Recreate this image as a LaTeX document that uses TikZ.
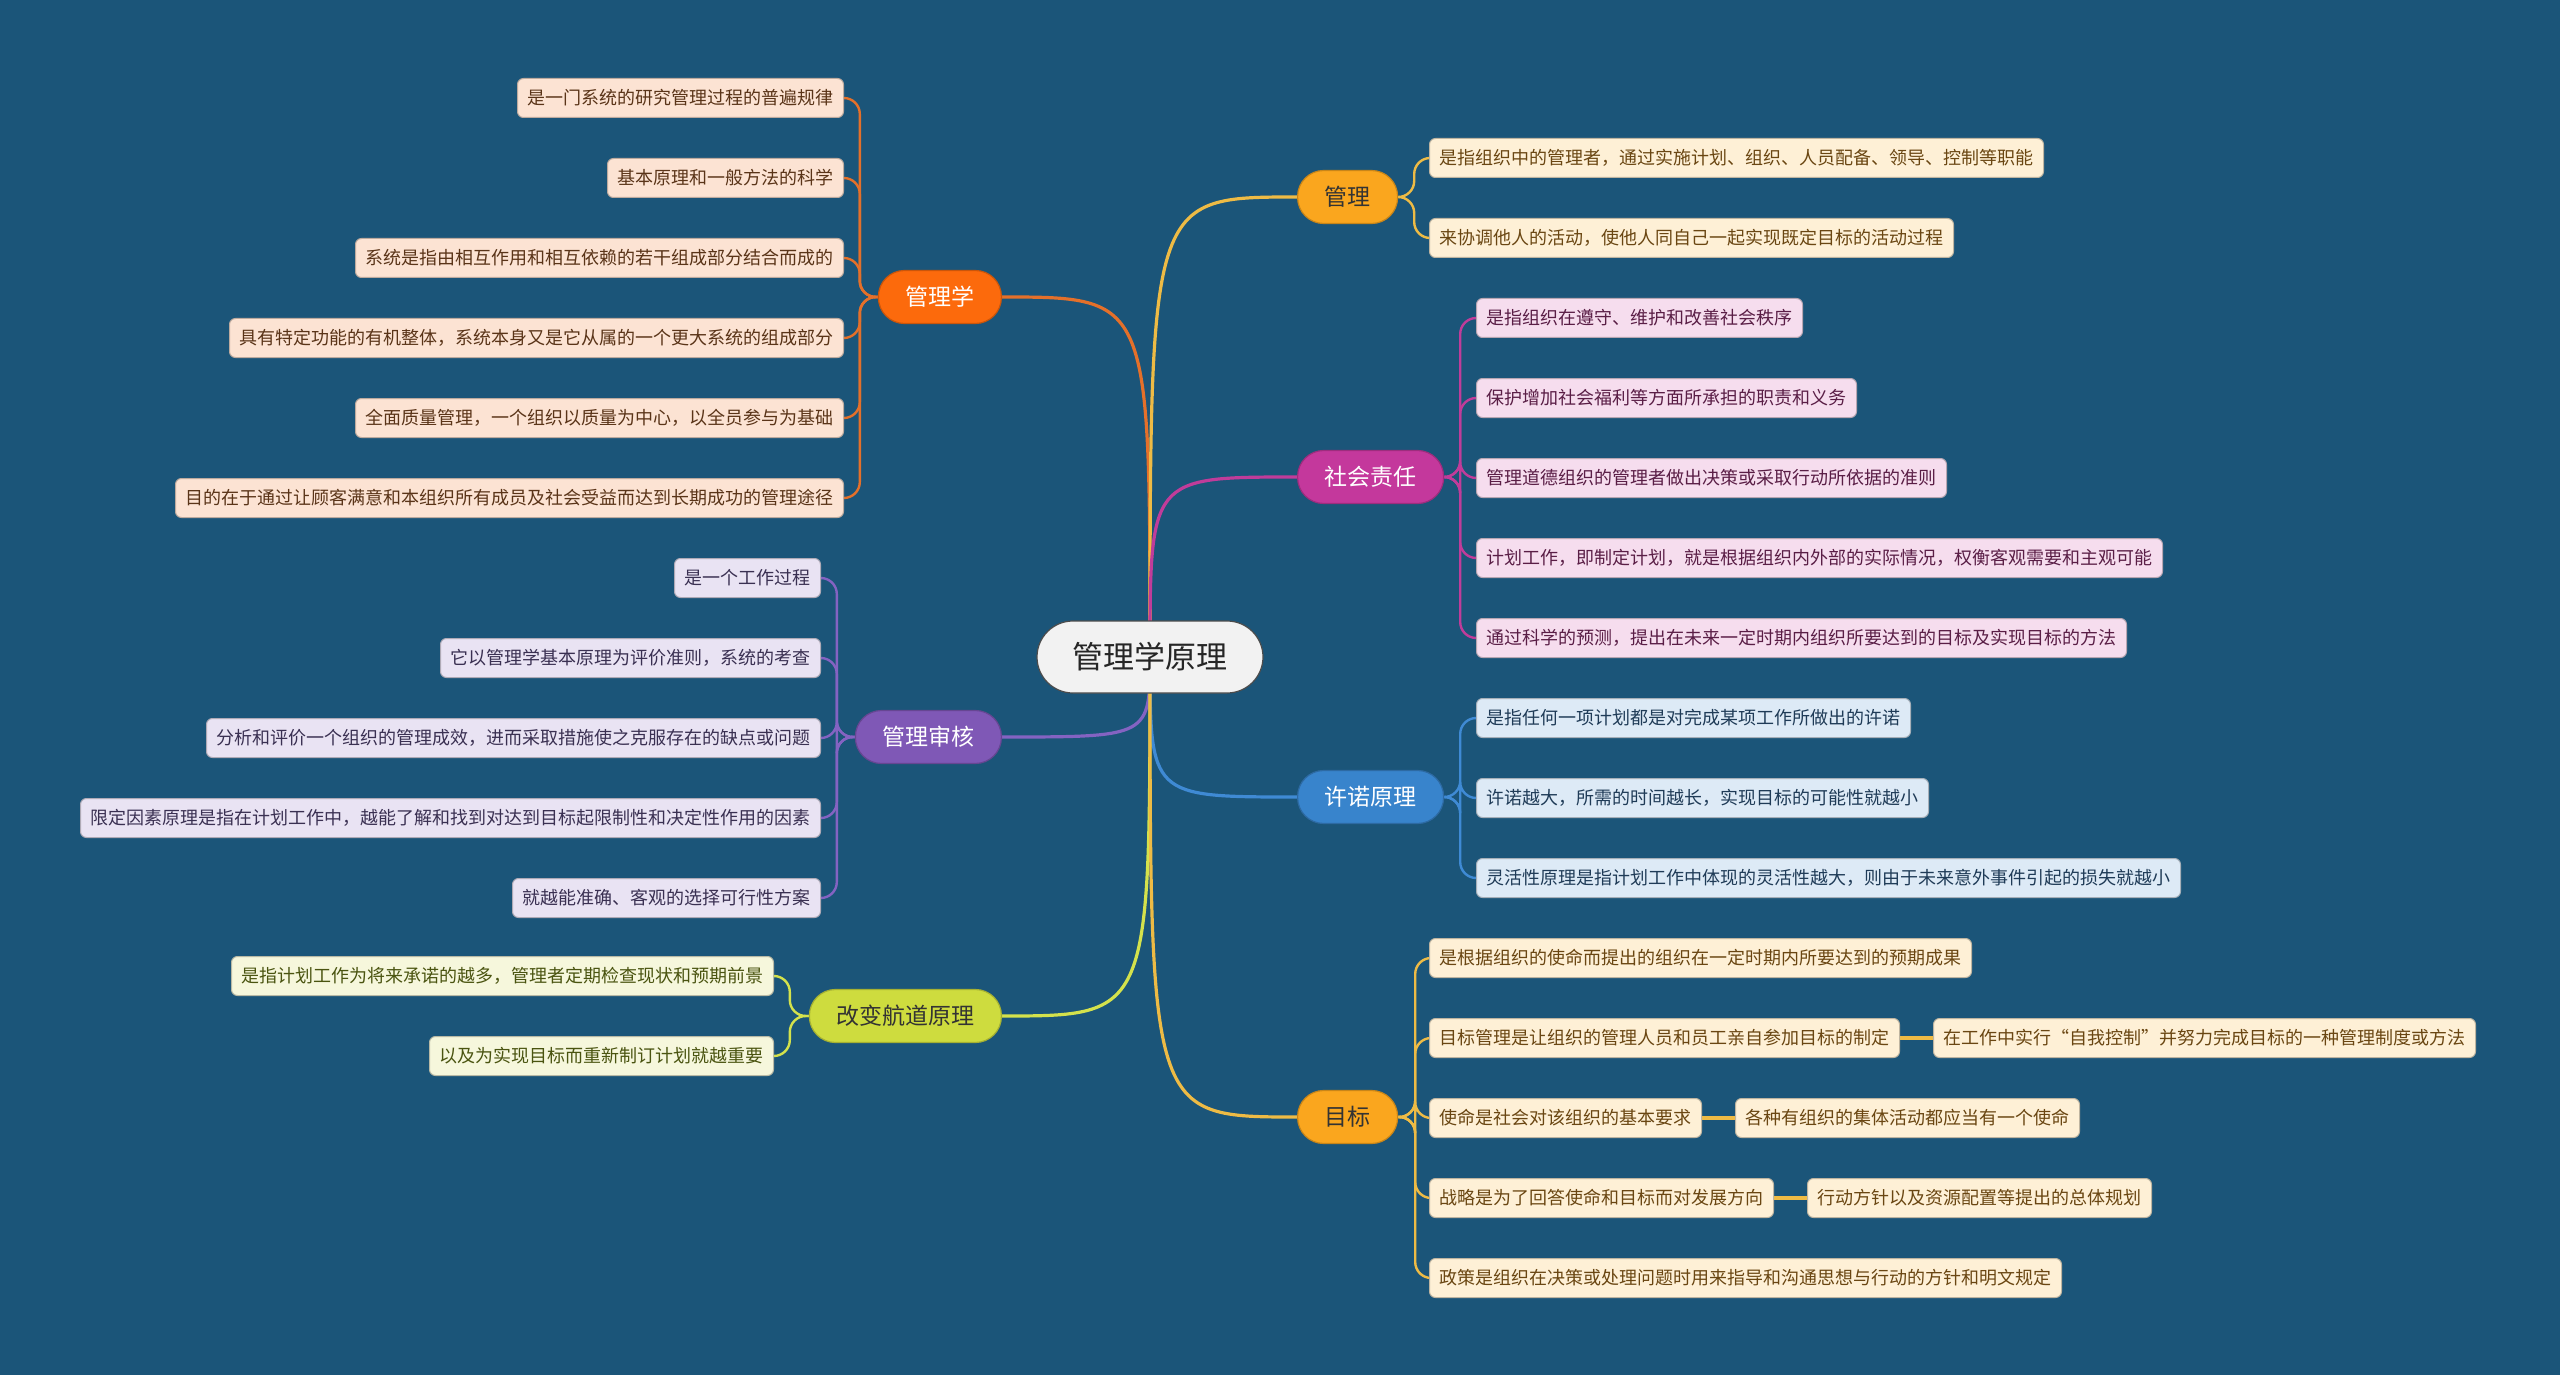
\documentclass[tikz,border=0pt]{standalone}
\usepackage{fontspec}
\setmainfont{Noto Sans CJK SC}
\usepackage{xcolor}
\usepackage{tikz}
\usetikzlibrary{positioning, calc, backgrounds}

\definecolor{bgblue}{HTML}{1B5579}
\definecolor{rootfill}{HTML}{F2F2F2}
\definecolor{xueMain}{HTML}{FC6A0C}
\definecolor{xueLine}{HTML}{E4702A}
\definecolor{xueLeaf}{HTML}{FCE3D3}
\definecolor{xueText}{HTML}{5A3418}
\definecolor{shenMain}{HTML}{7F58B6}
\definecolor{shenLine}{HTML}{8463C2}
\definecolor{shenLeaf}{HTML}{E9E3F3}
\definecolor{shenText}{HTML}{3A3052}
\definecolor{hangMain}{HTML}{CEDC3E}
\definecolor{hangLine}{HTML}{D4E24C}
\definecolor{hangLeaf}{HTML}{F6F7DC}
\definecolor{hangText}{HTML}{4A5410}
\definecolor{guanMain}{HTML}{FAA61E}
\definecolor{guanLine}{HTML}{EEBB45}
\definecolor{guanLeaf}{HTML}{FEF0D6}
\definecolor{guanText}{HTML}{6A4612}
\definecolor{sheMain}{HTML}{C4389C}
\definecolor{sheLine}{HTML}{C03C9A}
\definecolor{sheLeaf}{HTML}{F6DDEE}
\definecolor{sheText}{HTML}{5A1E46}
\definecolor{nuoMain}{HTML}{3884CC}
\definecolor{nuoLine}{HTML}{3F8AD4}
\definecolor{nuoLeaf}{HTML}{DDEAF6}
\definecolor{nuoText}{HTML}{1F3B57}

\tikzset{
  topic/.style={rectangle, draw=black!70, line width=0.6pt, fill=rootfill, text=black!85, rounded corners=18pt, minimum width=113pt, minimum height=36pt, font=\fontsize{15.5}{18}\selectfont},
  branch/.style={rectangle, rounded corners=13pt, minimum height=26.5pt, inner xsep=13.5pt, line width=0.6pt, font=\fontsize{11.5}{14}\selectfont},
  leaf/.style={rectangle, rounded corners=3pt, minimum height=19.5pt, inner xsep=5pt, line width=0.5pt, font=\fontsize{9}{11}\selectfont},
  link/.style={line width=1.6pt},
  twig/.style={line width=1.2pt, rounded corners=8pt},
  xueleaf/.style={leaf, fill=xueLeaf, draw=xueLeaf!75!black, text=xueText},
  shenleaf/.style={leaf, fill=shenLeaf, draw=shenLeaf!75!black, text=shenText},
  hangleaf/.style={leaf, fill=hangLeaf, draw=hangLeaf!75!black, text=hangText},
  guanleaf/.style={leaf, fill=guanLeaf, draw=guanLeaf!75!black, text=guanText},
  sheleaf/.style={leaf, fill=sheLeaf, draw=sheLeaf!75!black, text=sheText},
  nuoleaf/.style={leaf, fill=nuoLeaf, draw=nuoLeaf!75!black, text=nuoText},
}

\begin{document}
\begin{tikzpicture}[x=0.5pt, y=-0.5pt]
  % Root
  \node[topic] (root) at (1150,657) {管理学原理};

  % Left branches
  \node[branch, fill=xueMain, draw=xueMain!80!black, text=white, anchor=east] (xue) at (1002,297) {管理学};
  \node[branch, fill=shenMain, draw=shenMain!80!black, text=white, anchor=east] (shen) at (1002,737) {管理审核};
  \node[branch, fill=hangMain, draw=hangMain!80!black, text=black!80, anchor=east] (hang) at (1002,1016) {改变航道原理};

  % Right branches
  \node[branch, fill=guanMain, draw=guanMain!80!black, text=black!80, anchor=west] (guan) at (1297,197) {管理};
  \node[branch, fill=sheMain, draw=sheMain!80!black, text=white, anchor=west] (she) at (1297,477) {社会责任};
  \node[branch, fill=nuoMain, draw=nuoMain!80!black, text=white, anchor=west] (nuo) at (1297,797) {许诺原理};
  \node[branch, fill=guanMain, draw=guanMain!80!black, text=black!80, anchor=west] (mu) at (1297,1117) {目标};

  % Leaves
  \foreach \t [count=\i] in {是一门系统的研究管理过程的普遍规律, 基本原理和一般方法的科学,
      系统是指由相互作用和相互依赖的若干组成部分结合而成的,
      具有特定功能的有机整体，系统本身又是它从属的一个更大系统的组成部分,
      全面质量管理，一个组织以质量为中心，以全员参与为基础,
      目的在于通过让顾客满意和本组织所有成员及社会受益而达到长期成功的管理途径}
    \node[xueleaf, anchor=east] (xue\i) at (844,18+80*\i) {\t};

  \foreach \t [count=\i] in {是一个工作过程, 它以管理学基本原理为评价准则，系统的考查,
      分析和评价一个组织的管理成效，进而采取措施使之克服存在的缺点或问题,
      限定因素原理是指在计划工作中，越能了解和找到对达到目标起限制性和决定性作用的因素,
      就越能准确、客观的选择可行性方案}
    \node[shenleaf, anchor=east] (shen\i) at (821,498+80*\i) {\t};

  \foreach \t [count=\i] in {是指计划工作为将来承诺的越多，管理者定期检查现状和预期前景,
      以及为实现目标而重新制订计划就越重要}
    \node[hangleaf, anchor=east] (hang\i) at (774,896+80*\i) {\t};

  \foreach \t [count=\i] in {是指组织中的管理者，通过实施计划、组织、人员配备、领导、控制等职能,
      来协调他人的活动，使他人同自己一起实现既定目标的活动过程}
    \node[guanleaf, anchor=west] (guan\i) at (1429,78+80*\i) {\t};

  \foreach \t [count=\i] in {是指组织在遵守、维护和改善社会秩序, 保护增加社会福利等方面所承担的职责和义务,
      管理道德组织的管理者做出决策或采取行动所依据的准则,
      计划工作，即制定计划，就是根据组织内外部的实际情况，权衡客观需要和主观可能,
      通过科学的预测，提出在未来一定时期内组织所要达到的目标及实现目标的方法}
    \node[sheleaf, anchor=west] (she\i) at (1476,238+80*\i) {\t};

  \foreach \t [count=\i] in {是指任何一项计划都是对完成某项工作所做出的许诺,
      许诺越大，所需的时间越长，实现目标的可能性就越小,
      灵活性原理是指计划工作中体现的灵活性越大，则由于未来意外事件引起的损失就越小}
    \node[nuoleaf, anchor=west] (nuo\i) at (1476,638+80*\i) {\t};

  \foreach \t [count=\i] in {是根据组织的使命而提出的组织在一定时期内所要达到的预期成果,
      目标管理是让组织的管理人员和员工亲自参加目标的制定,
      使命是社会对该组织的基本要求, 战略是为了回答使命和目标而对发展方向,
      政策是组织在决策或处理问题时用来指导和沟通思想与行动的方针和明文规定}
    \node[guanleaf, anchor=west] (mu\i) at (1429,878+80*\i) {\t};

  % Second level under 目标
  \node[guanleaf, right=16.5pt of mu2] (mu2a) {在工作中实行“自我控制”并努力完成目标的一种管理制度或方法};
  \node[guanleaf, right=16.5pt of mu3] (mu3a) {各种有组织的集体活动都应当有一个使命};
  \node[guanleaf, right=16.5pt of mu4] (mu4a) {行动方针以及资源配置等提出的总体规划};

  % Connectors
  \begin{scope}[on background layer]
    \fill[bgblue] (0,0) rectangle (2560,1375);
    \foreach \b/\c in {xue/xueLine, shen/shenLine, hang/hangLine}
      \draw[link, \c] (root.center) .. controls (root.center |- \b.east) .. (\b.east);
    \foreach \b/\c in {guan/guanLine, she/sheLine, nuo/nuoLine, mu/guanLine}
      \draw[link, \c] (root.center) .. controls (root.center |- \b.west) .. (\b.west);

    \foreach \i in {1,...,6}
      \draw[twig, xueLine] (xue.west) -- ++(-18,0) |- (xue\i.east);
    \foreach \i in {1,...,5}
      \draw[twig, shenLine] (shen.west) -- ++(-18,0) |- (shen\i.east);
    \foreach \i in {1,2}
      \draw[twig, hangLine] (hang.west) -- ++(-19,0) |- (hang\i.east);
    \foreach \i in {1,2}
      \draw[twig, guanLine] (guan.east) -- ++(16,0) |- (guan\i.west);
    \foreach \i in {1,...,5}
      \draw[twig, sheLine] (she.east) -- ++(16,0) |- (she\i.west);
    \foreach \i in {1,2,3}
      \draw[twig, nuoLine] (nuo.east) -- ++(16,0) |- (nuo\i.west);
    \foreach \i in {1,...,5}
      \draw[twig, guanLine] (mu.east) -- ++(17,0) |- (mu\i.west);

    \foreach \i in {2,3,4}
      \draw[line width=2.2pt, guanLine] (mu\i.east) -- (mu\i a.west);
  \end{scope}
\end{tikzpicture}
\end{document}
